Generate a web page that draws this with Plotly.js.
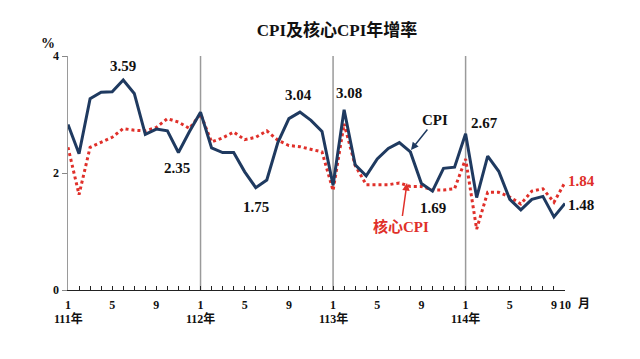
<!DOCTYPE html>
<html>
<head>
<meta charset="utf-8">
<script src="https://cdn.plot.ly/plotly-3.0.1.min.js"></script>
<style>html,body{margin:0;padding:0;background:#fff}#chart{width:640px;height:359px}</style>
</head>
<body>
<div id="chart"></div>
<script>
// Month index 0 = 111年1月 ... 45 = 114年10月
var months = [];
for (var i = 0; i < 46; i++) months.push(i);

var cpi = [
  2.83, 2.33, 3.27, 3.38, 3.39, 3.59, 3.36, 2.66, 2.75, 2.72, 2.35, 2.71,
  3.04, 2.43, 2.35, 2.35, 2.02, 1.75, 1.88, 2.52, 2.93, 3.04, 2.90, 2.71,
  1.79, 3.08, 2.14, 1.95, 2.24, 2.42, 2.52, 2.36, 1.82, 1.69, 2.08, 2.10,
  2.67, 1.58, 2.29, 2.03, 1.55, 1.37, 1.55, 1.60, 1.25, 1.48
];
var coreCpi = [
  2.44, 1.63, 2.44, 2.53, 2.61, 2.76, 2.73, 2.72, 2.78, 2.93, 2.87, 2.76,
  3.01, 2.53, 2.60, 2.70, 2.57, 2.61, 2.72, 2.56, 2.47, 2.45, 2.41, 2.36,
  1.70, 2.84, 2.13, 1.80, 1.80, 1.80, 1.83, 1.77, 1.77, 1.71, 1.71, 1.73,
  2.24, 1.04, 1.67, 1.67, 1.59, 1.47, 1.69, 1.73, 1.50, 1.84
];
var tickVals = [0, 4, 8, 12, 16, 20, 24, 28, 32, 36, 40, 44, 45];
var tickText = ["1", "5", "9", "1", "5", "9", "1", "5", "9", "1", "5", "9", "10"];
var yearPos = [0, 12, 24, 36];
var yearText = ["111年", "112年", "113年", "114年"];

var NAVY = "#1f3a60", RED = "#e0302a";
var SERIF = "Liberation Serif, Noto Sans CJK TC, serif";

// pixel helpers for paper-referenced text
var L = 68, R = 75, T = 56, B = 69, W = 640 - L - R, H = 359 - T - B;
function px(x) { return (x - L) / W; }
function py(y) { return (359 - B - y) / H; }

var traces = [
  {x: months, y: coreCpi, type: "scatter", mode: "lines", name: "核心CPI",
   line: {color: RED, width: 3, dash: "3px,3px"}},
  {x: months, y: cpi, type: "scatter", mode: "lines", name: "CPI",
   line: {color: NAVY, width: 3}}
];

var shapes = [12, 24, 36].map(function (v) {
  return {type: "line", xref: "x", yref: "y", x0: v, x1: v, y0: 0, y1: 4,
          line: {color: "#9a9a9a", width: 1.5}, layer: "below"};
});

function lab(text, x, y, color, size) {
  return {xref: "paper", yref: "paper", x: px(x), y: py(y), text: text, showarrow: false,
          xanchor: "center", yanchor: "middle",
          font: {family: SERIF, size: size || 15, color: color || "#111"}};
}

var annotations = [
  lab("<b>3.59</b>", 123, 66),
  lab("<b>2.35</b>", 177, 168),
  lab("<b>1.75</b>", 256, 207),
  lab("<b>3.04</b>", 298, 95),
  lab("<b>3.08</b>", 349, 93),
  lab("<b>1.69</b>", 433, 208),
  lab("<b>2.67</b>", 484, 123),
  lab("<b>1.84</b>", 581, 181, RED),
  lab("<b>1.48</b>", 581, 205),
  lab("<b>%</b>", 48, 44, "#111", 14),
  lab("<b>月</b>", 584, 304, "#111", 12),
  {xref: "paper", yref: "paper", x: px(411), y: py(150), ax: 24, ay: -30,
   text: "<b>CPI</b>", showarrow: true, arrowhead: 2, arrowsize: 1, arrowwidth: 1.5,
   arrowcolor: NAVY, standoff: 0, startstandoff: 0,
   font: {family: SERIF, size: 15, color: "#111"}},
  {xref: "paper", yref: "paper", x: px(407), y: py(183), ax: -6, ay: 43,
   text: "<b>核心CPI</b>", showarrow: true, arrowhead: 2, arrowsize: 1, arrowwidth: 1.5,
   arrowcolor: RED, standoff: 0, startstandoff: 0,
   font: {family: SERIF, size: 15, color: RED}}
];
yearPos.forEach(function (v, i) {
  annotations.push({xref: "x", yref: "paper", x: v, y: py(318), text: "<b>" + yearText[i] + "</b>",
    showarrow: false, xanchor: "center", yanchor: "middle",
    font: {family: SERIF, size: 12, color: "#111"}});
});

var layout = {
  width: 640, height: 359,
  margin: {l: L, r: R, t: T, b: B},
  paper_bgcolor: "#fff", plot_bgcolor: "#fff",
  showlegend: false,
  title: {text: "<b>CPI及核心CPI年增率</b>", x: px(337), xref: "paper", xanchor: "center",
          y: 1 - 30 / 359, yanchor: "middle",
          font: {family: SERIF, size: 17, color: "#111"}},
  xaxis: {range: [0, 45], showgrid: false, zeroline: false,
          showline: true, linecolor: "#222", linewidth: 1.2,
          tickmode: "array", tickvals: tickVals,
          ticktext: tickText.map(function (t) { return "<b>" + t + "</b>"; }),
          ticks: "inside", ticklen: 4, tickcolor: "#222", tickwidth: 1,
          ticklabelstandoff: 3,
          tickfont: {family: SERIF, size: 12, color: "#111"},
          minor: {tickmode: "linear", tick0: 0, dtick: 1, ticks: "inside", ticklen: 4,
                  tickcolor: "#222", tickwidth: 1, showgrid: false}},
  yaxis: {range: [0, 4], showgrid: false, zeroline: false,
          showline: true, linecolor: "#9a9a9a", linewidth: 1.5,
          tickmode: "array", tickvals: [0, 2, 4], ticktext: ["<b>0</b>", "<b>2</b>", "<b>4</b>"],
          ticks: "outside", ticklen: 5, tickcolor: "#888",
          tickfont: {family: SERIF, size: 12, color: "#111"}},
  shapes: shapes,
  annotations: annotations
};

Plotly.newPlot("chart", traces, layout, {displayModeBar: false, staticPlot: true});
</script>
</body>
</html>
